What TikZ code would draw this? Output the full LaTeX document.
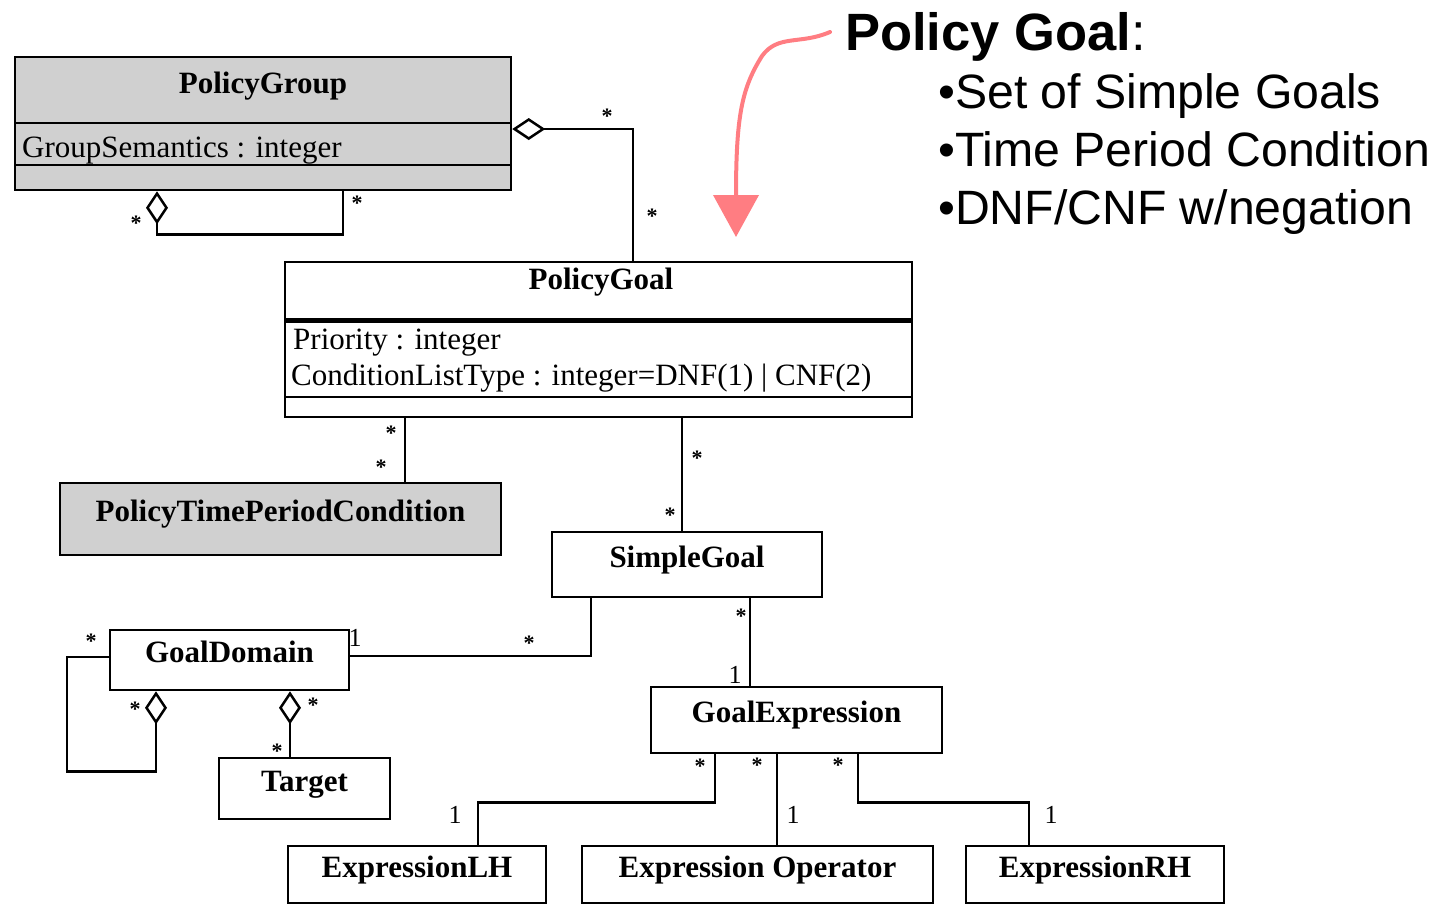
\documentclass[tikz,border=0pt]{standalone}
\usepackage{fontspec}
\setmainfont{Liberation Serif}
\newfontfamily\calloutfont{Liberation Sans}
\usepackage{xcolor}
\usepackage{tikz}
\usetikzlibrary{arrows.meta, positioning}
\definecolor{umlgray}{RGB}{208,208,208}
\definecolor{callpink}{RGB}{255,125,130}

\begin{document}
\begin{tikzpicture}[x=1pt, y=-1pt,
        cls/.style={draw, line width=2.5pt, inner sep=0pt, font=\fontsize{31}{31}\selectfont\bfseries, text height=22pt, text depth=17pt},
        clsname/.style={font=\fontsize{31}{31}\selectfont\bfseries, anchor=base, inner sep=0pt},
        attr/.style={font=\fontsize{31}{31}\selectfont, anchor=base west, inner sep=0pt},
        assoc/.style={line width=2.5pt},
        agg/.style={line width=2.5pt, arrows={Diamond[open, length=33pt, width=22pt]-}},
        mult/.style={font=\fontsize{22}{22}\selectfont\bfseries, inner sep=0pt, yshift=-3pt},
        one/.style={font=\fontsize{26}{26}\selectfont, inner sep=0pt},
        callarrow/.style={draw=callpink, line width=4pt, line cap=round, arrows={-Triangle[length=42pt, width=45pt, fill=callpink]}},
        calltext/.style={font=\calloutfont\fontsize{48.2}{48.2}\selectfont, anchor=base west, inner sep=0pt}
    ]

    \useasboundingbox (0,0) rectangle (1440,906);

    % 类
    \node[cls, fill=umlgray, minimum width=496pt, minimum height=133pt] (pgroup) at (263,123.5) {};
    \node[clsname] (pgroupname) at (263,93) {PolicyGroup};
    \node[attr] (pgroupattr) at (22,157) {GroupSemantics : integer};
    \draw[line width=2.5pt] (15,123) -- (511,123);
    \draw[line width=2.5pt] (15,165) -- (511,165);

    \node[cls, minimum width=627pt, minimum height=155pt] (pgoal) at (598.5,339.5) {};
    \node[clsname] (pgoalname) at (601,289) {PolicyGoal};
    \node[attr] (pgoalattr1) at (293,349) {Priority : integer};
    \node[attr] (pgoalattr2) at (291,385) {ConditionListType : integer=DNF(1) | CNF(2)};
    \draw[line width=5pt] (285,320) -- (912,320);
    \draw[line width=2.5pt] (285,397) -- (912,397);

    \node[cls, fill=umlgray, minimum width=441pt, minimum height=72pt] (ptpc) at (280.5,519) {PolicyTimePeriodCondition};
    \node[cls, minimum width=270pt, minimum height=65pt] (sgoal) at (687,564.5) {SimpleGoal};
    \node[cls, minimum width=239pt, minimum height=60pt] (gdomain) at (229.5,660) {GoalDomain};
    \node[cls, minimum width=171pt, minimum height=61pt] (target) at (304.5,788.5) {Target};
    \node[cls, minimum width=291pt, minimum height=66pt] (gexpr) at (796.5,720) {GoalExpression};
    \node[cls, minimum width=258pt, minimum height=57pt] (elh) at (417,874.5) {ExpressionLH};
    \node[cls, minimum width=351pt, minimum height=57pt] (eop) at (757.5,874.5) {Expression Operator};
    \node[cls, minimum width=258pt, minimum height=57pt] (erh) at (1095,874.5) {ExpressionRH};

    % 连线
    \draw[agg] ([yshift=-5.5pt]pgroup.east) -| ([xshift=34.5pt]pgoal.north);
    \draw[agg] ([xshift=-106pt]pgroup.south) -- ++(0,43) -| ([xshift=80pt]pgroup.south);
    \draw[assoc] ([xshift=-193.5pt]pgoal.south) -- ([xshift=124.5pt]ptpc.north);
    \draw[assoc] ([xshift=83.5pt]pgoal.south) -- ([xshift=-5pt]sgoal.north);
    \draw[assoc] ([xshift=-96pt]sgoal.south) |- ([yshift=4pt]gdomain.east);
    \draw[assoc] ([xshift=63pt]sgoal.south) -- ([xshift=-46.5pt]gexpr.north);
    \draw[agg] ([xshift=-73.5pt]gdomain.south) -- ++(0,80) -- ++(-89,0) |- ([yshift=3pt]gdomain.west);
    \draw[agg] ([xshift=60.5pt]gdomain.south) -- ([xshift=-14.5pt]target.north);
    \draw[assoc] ([xshift=-81.5pt]gexpr.south) -- ++(0,48) -| ([xshift=61pt]elh.north);
    \draw[assoc] ([xshift=-19.5pt]gexpr.south) -- ([xshift=19.5pt]eop.north);
    \draw[assoc] ([xshift=61.5pt]gexpr.south) -- ++(0,48) -| ([xshift=-66pt]erh.north);

    % 多重性
    \node[mult] (m1) at (607,113) {*};
    \node[mult] (m2) at (652,213) {*};
    \node[mult] (m3) at (136,220) {*};
    \node[mult] (m4) at (357,200) {*};
    \node[mult] (m5) at (391,430) {*};
    \node[mult] (m6) at (381,464) {*};
    \node[mult] (m7) at (697,455) {*};
    \node[mult] (m8) at (670,512) {*};
    \node[mult] (m9) at (529,640) {*};
    \node[one] (n1) at (355,638) {1};
    \node[mult] (m10) at (741,613) {*};
    \node[one] (n2) at (735,675) {1};
    \node[mult] (m11) at (91,638) {*};
    \node[mult] (m12) at (135,706) {*};
    \node[mult] (m13) at (313,702) {*};
    \node[mult] (m14) at (277,748) {*};
    \node[mult] (m15) at (700,763) {*};
    \node[one] (n3) at (455,815) {1};
    \node[mult] (m16) at (757,762) {*};
    \node[one] (n4) at (793,815) {1};
    \node[mult] (m17) at (838,762) {*};
    \node[one] (n5) at (1051,815) {1};

    % 说明
    \node[calltext, font=\calloutfont\fontsize{52.5}{52.5}\selectfont] (calltitle) at (845,50) {\textbf{Policy Goal}:};
    \node[calltext] (callitem1) at (938,108) {•Set of Simple Goals};
    \node[calltext] (callitem2) at (938,166) {•Time Period Condition};
    \node[calltext] (callitem3) at (938,224) {•DNF/CNF w/negation};
    \coordinate (calltail) at (830,32);
    \coordinate (calltip) at (736,237);
    \draw[callarrow] (calltail) .. controls (800,45) and (778,34) .. (762,56) .. controls (742,88) and (736,115) .. (calltip);

\end{tikzpicture}
\end{document}
